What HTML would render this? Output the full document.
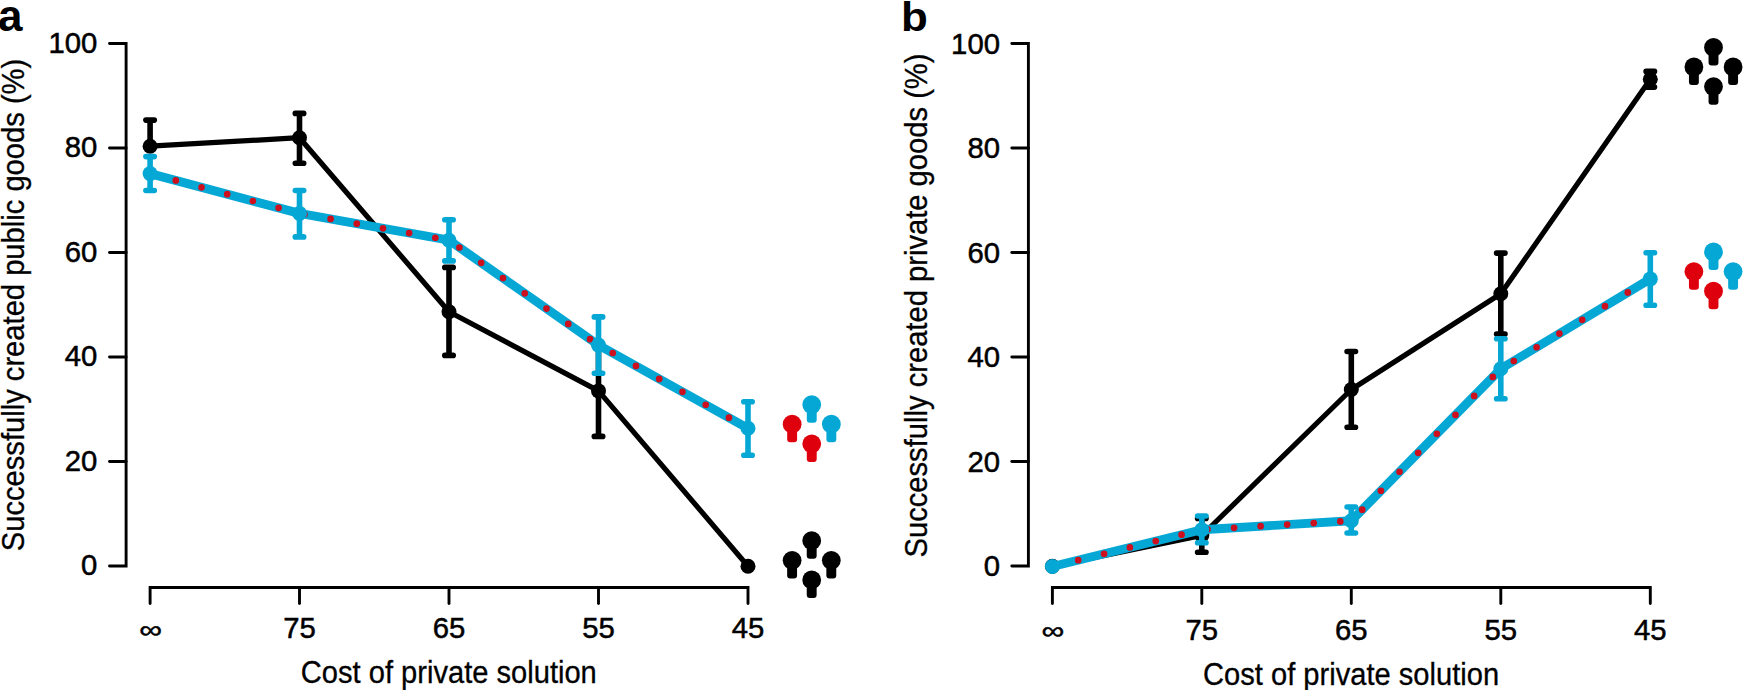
<!DOCTYPE html>
<html><head><meta charset="utf-8"><title>Figure</title>
<style>
html,body{margin:0;padding:0;background:#fff;}
body{width:1743px;height:690px;overflow:hidden;}
svg{display:block;font-family:"Liberation Sans",Arial,Helvetica,sans-serif;}
</style></head><body>
<svg width="1743" height="690" viewBox="0 0 1743 690">
<rect width="1743" height="690" fill="#fff"/>

<!-- panel a -->
<g stroke="#000" stroke-width="2.9" fill="none" stroke-linecap="round" stroke-linejoin="miter"><path d="M109.5,43.55H126.1V566.0H109.5"/><path d="M109.5,461.51H126.1"/><path d="M109.5,357.02H126.1"/><path d="M109.5,252.53H126.1"/><path d="M109.5,148.04H126.1"/><path d="M150.1,603.5V587.5H748.0V603.5"/><path d="M299.5,587.5V603.5"/><path d="M449.0,587.5V603.5"/><path d="M598.5,587.5V603.5"/></g><g font-size="29.3" fill="#000" stroke="#000" stroke-width="0.5"><text x="97.4" y="575.2" text-anchor="end">0</text><text x="97.4" y="470.7" text-anchor="end">20</text><text x="97.4" y="366.2" text-anchor="end">40</text><text x="97.4" y="261.7" text-anchor="end">60</text><text x="97.4" y="157.2" text-anchor="end">80</text><text x="97.4" y="52.7" text-anchor="end">100</text><text x="299.5" y="638.1" text-anchor="middle">75</text><text x="449.0" y="638.1" text-anchor="middle">65</text><text x="598.5" y="638.1" text-anchor="middle">55</text><text x="748.0" y="638.1" text-anchor="middle">45</text><text transform="translate(150.6,637.9) scale(1.09,0.84)" text-anchor="middle">∞</text></g><text x="448.8" y="683.4" font-size="31" stroke="#000" stroke-width="0.3" text-anchor="middle" textLength="296" lengthAdjust="spacingAndGlyphs">Cost of private solution</text>
<text x="-2.1" y="31.3" font-size="44" font-weight="bold">a</text>
<text transform="translate(24.3,305) rotate(-90)" font-size="31" stroke="#000" stroke-width="0.3" text-anchor="middle" textLength="492.5" lengthAdjust="spacingAndGlyphs">Successfully created public goods (%)</text>
<polyline points="150.1,146.2 299.5,137.7 449.0,311.7 598.5,390.9 748.0,566.2" fill="none" stroke="#000" stroke-width="5.2" stroke-linejoin="round" stroke-linecap="round"/><path d="M150.1,120.1V146.4M145.9,120.1h8.4M145.9,146.4h8.4" stroke="#000" stroke-width="5.6" stroke-linecap="round" fill="none"/><circle cx="150.1" cy="146.2" r="7.5" fill="#000"/><path d="M299.5,113.4V163.2M295.3,113.4h8.4M295.3,163.2h8.4" stroke="#000" stroke-width="5.6" stroke-linecap="round" fill="none"/><circle cx="299.5" cy="137.7" r="7.5" fill="#000"/><path d="M449.0,267.4V355.4M444.8,267.4h8.4M444.8,355.4h8.4" stroke="#000" stroke-width="5.6" stroke-linecap="round" fill="none"/><circle cx="449.0" cy="311.7" r="7.5" fill="#000"/><path d="M598.5,345V436.4M594.3,345h8.4M594.3,436.4h8.4" stroke="#000" stroke-width="5.6" stroke-linecap="round" fill="none"/><circle cx="598.5" cy="390.9" r="7.5" fill="#000"/><circle cx="748.0" cy="566.2" r="7.5" fill="#000"/>
<polyline points="150.1,173.6 299.5,213.4 449.0,240.2 598.5,345.1 748.0,428.3" fill="none" stroke="#05A7D5" stroke-width="8.9" stroke-linejoin="round" stroke-linecap="round"/><polyline points="150.1,173.6 299.5,213.4 449.0,240.2 598.5,345.1 748.0,428.3" fill="none" stroke="#CD0F1E" stroke-width="6.7" stroke-linecap="round" stroke-dasharray="0 26.6"/><path d="M150.1,156.6V190.5M145.9,156.6h8.4M145.9,190.5h8.4" stroke="#05A7D5" stroke-width="5.6" stroke-linecap="round" fill="none"/><circle cx="150.1" cy="173.6" r="7.5" fill="#05A7D5"/><path d="M299.5,190.5V236.9M295.3,190.5h8.4M295.3,236.9h8.4" stroke="#05A7D5" stroke-width="5.6" stroke-linecap="round" fill="none"/><circle cx="299.5" cy="213.4" r="7.5" fill="#05A7D5"/><path d="M449.0,219.8V260.9M444.8,219.8h8.4M444.8,260.9h8.4" stroke="#05A7D5" stroke-width="5.6" stroke-linecap="round" fill="none"/><circle cx="449.0" cy="240.2" r="7.5" fill="#05A7D5"/><path d="M598.5,316.9V373.3M594.3,316.9h8.4M594.3,373.3h8.4" stroke="#05A7D5" stroke-width="5.6" stroke-linecap="round" fill="none"/><circle cx="598.5" cy="345.1" r="7.5" fill="#05A7D5"/><path d="M748.0,401.8V455.3M743.8,401.8h8.4M743.8,455.3h8.4" stroke="#05A7D5" stroke-width="5.6" stroke-linecap="round" fill="none"/><circle cx="748.0" cy="428.3" r="7.5" fill="#05A7D5"/>
<circle cx="811.75" cy="404.59999999999997" r="9.4" fill="#05A7D5"/><rect x="806.8" y="404.59999999999997" width="9.9" height="18.1" rx="3" ry="3" fill="#05A7D5"/><circle cx="792.15" cy="424.2" r="9.4" fill="#DF000D"/><rect x="787.1999999999999" y="424.2" width="9.9" height="18.1" rx="3" ry="3" fill="#DF000D"/><circle cx="831.35" cy="424.2" r="9.4" fill="#05A7D5"/><rect x="826.4" y="424.2" width="9.9" height="18.1" rx="3" ry="3" fill="#05A7D5"/><circle cx="811.75" cy="443.8" r="9.4" fill="#DF000D"/><rect x="806.8" y="443.8" width="9.9" height="18.1" rx="3" ry="3" fill="#DF000D"/>
<circle cx="811.7" cy="540.6999999999999" r="9.4" fill="#000"/><rect x="806.75" y="540.6999999999999" width="9.9" height="18.1" rx="3" ry="3" fill="#000"/><circle cx="792.1" cy="560.3" r="9.4" fill="#000"/><rect x="787.15" y="560.3" width="9.9" height="18.1" rx="3" ry="3" fill="#000"/><circle cx="831.3000000000001" cy="560.3" r="9.4" fill="#000"/><rect x="826.35" y="560.3" width="9.9" height="18.1" rx="3" ry="3" fill="#000"/><circle cx="811.7" cy="579.9" r="9.4" fill="#000"/><rect x="806.75" y="579.9" width="9.9" height="18.1" rx="3" ry="3" fill="#000"/>
<!-- panel b -->
<g stroke="#000" stroke-width="2.9" fill="none" stroke-linecap="round" stroke-linejoin="miter"><path d="M1011.8,43.55H1028.3999999999999V566.0H1011.8"/><path d="M1011.8,461.51H1028.3999999999999"/><path d="M1011.8,357.02H1028.3999999999999"/><path d="M1011.8,252.53H1028.3999999999999"/><path d="M1011.8,148.04H1028.3999999999999"/><path d="M1052.3999999999999,603.5V587.5H1650.3V603.5"/><path d="M1201.8,587.5V603.5"/><path d="M1351.3,587.5V603.5"/><path d="M1500.8,587.5V603.5"/></g><g font-size="29.3" fill="#000" stroke="#000" stroke-width="0.5"><text x="999.9999999999999" y="576.2" text-anchor="end">0</text><text x="999.9999999999999" y="471.7" text-anchor="end">20</text><text x="999.9999999999999" y="367.2" text-anchor="end">40</text><text x="999.9999999999999" y="262.7" text-anchor="end">60</text><text x="999.9999999999999" y="158.2" text-anchor="end">80</text><text x="999.9999999999999" y="53.7" text-anchor="end">100</text><text x="1201.8" y="639.5" text-anchor="middle">75</text><text x="1351.3" y="639.5" text-anchor="middle">65</text><text x="1500.8" y="639.5" text-anchor="middle">55</text><text x="1650.3" y="639.5" text-anchor="middle">45</text><text transform="translate(1052.8999999999999,639.3) scale(1.09,0.84)" text-anchor="middle">∞</text></g><text x="1351.1" y="684.5" font-size="31" stroke="#000" stroke-width="0.3" text-anchor="middle" textLength="296" lengthAdjust="spacingAndGlyphs">Cost of private solution</text>
<text transform="translate(900.9,30.8) scale(1.045,0.985)" font-size="42" font-weight="bold">b</text>
<text transform="translate(926.7,305.5) rotate(-90)" font-size="31" stroke="#000" stroke-width="0.3" text-anchor="middle" textLength="504" lengthAdjust="spacingAndGlyphs">Successfully created private goods (%)</text>
<polyline points="1052.3999999999999,566.2 1201.8,535.5 1351.3,389.5 1500.8,293.8 1650.3,79.3" fill="none" stroke="#000" stroke-width="5.2" stroke-linejoin="round" stroke-linecap="round"/><circle cx="1052.3999999999999" cy="566.2" r="7.5" fill="#000"/><path d="M1201.8,518.4V552.2M1197.6,518.4h8.4M1197.6,552.2h8.4" stroke="#000" stroke-width="5.6" stroke-linecap="round" fill="none"/><circle cx="1201.8" cy="535.5" r="7.5" fill="#000"/><path d="M1351.3,351.5V427.3M1347.1,351.5h8.4M1347.1,427.3h8.4" stroke="#000" stroke-width="5.6" stroke-linecap="round" fill="none"/><circle cx="1351.3" cy="389.5" r="7.5" fill="#000"/><path d="M1500.8,253.1V334.1M1496.6,253.1h8.4M1496.6,334.1h8.4" stroke="#000" stroke-width="5.6" stroke-linecap="round" fill="none"/><circle cx="1500.8" cy="293.8" r="7.5" fill="#000"/><path d="M1650.3,71.4V87.1M1646.1,71.4h8.4M1646.1,87.1h8.4" stroke="#000" stroke-width="5.6" stroke-linecap="round" fill="none"/><circle cx="1650.3" cy="79.3" r="7.5" fill="#000"/>
<polyline points="1052.3999999999999,566.5 1201.8,529.7 1351.3,520.8 1500.8,368.8 1650.3,278.9" fill="none" stroke="#05A7D5" stroke-width="8.9" stroke-linejoin="round" stroke-linecap="round"/><polyline points="1052.3999999999999,566.5 1201.8,529.7 1351.3,520.8 1500.8,368.8 1650.3,278.9" fill="none" stroke="#CD0F1E" stroke-width="6.7" stroke-linecap="round" stroke-dasharray="0 26.6"/><circle cx="1052.3999999999999" cy="566.5" r="7.5" fill="#05A7D5"/><path d="M1201.8,516.0V542.8M1197.6,516.0h8.4M1197.6,542.8h8.4" stroke="#05A7D5" stroke-width="5.6" stroke-linecap="round" fill="none"/><circle cx="1201.8" cy="529.7" r="7.5" fill="#05A7D5"/><path d="M1351.3,507.0V533.0M1347.1,507.0h8.4M1347.1,533.0h8.4" stroke="#05A7D5" stroke-width="5.6" stroke-linecap="round" fill="none"/><circle cx="1351.3" cy="520.8" r="7.5" fill="#05A7D5"/><path d="M1500.8,338.8V398.7M1496.6,338.8h8.4M1496.6,398.7h8.4" stroke="#05A7D5" stroke-width="5.6" stroke-linecap="round" fill="none"/><circle cx="1500.8" cy="368.8" r="7.5" fill="#05A7D5"/><path d="M1650.3,252.8V305.2M1646.1,252.8h8.4M1646.1,305.2h8.4" stroke="#05A7D5" stroke-width="5.6" stroke-linecap="round" fill="none"/><circle cx="1650.3" cy="278.9" r="7.5" fill="#05A7D5"/>
<circle cx="1713.5" cy="47.4" r="9.4" fill="#000"/><rect x="1708.55" y="47.4" width="9.9" height="18.1" rx="3" ry="3" fill="#000"/><circle cx="1693.9" cy="67" r="9.4" fill="#000"/><rect x="1688.95" y="67" width="9.9" height="18.1" rx="3" ry="3" fill="#000"/><circle cx="1733.1" cy="67" r="9.4" fill="#000"/><rect x="1728.1499999999999" y="67" width="9.9" height="18.1" rx="3" ry="3" fill="#000"/><circle cx="1713.5" cy="86.6" r="9.4" fill="#000"/><rect x="1708.55" y="86.6" width="9.9" height="18.1" rx="3" ry="3" fill="#000"/>
<circle cx="1713.5" cy="252.00000000000003" r="9.4" fill="#05A7D5"/><rect x="1708.55" y="252.00000000000003" width="9.9" height="18.1" rx="3" ry="3" fill="#05A7D5"/><circle cx="1693.9" cy="271.6" r="9.4" fill="#DF000D"/><rect x="1688.95" y="271.6" width="9.9" height="18.1" rx="3" ry="3" fill="#DF000D"/><circle cx="1733.1" cy="271.6" r="9.4" fill="#05A7D5"/><rect x="1728.1499999999999" y="271.6" width="9.9" height="18.1" rx="3" ry="3" fill="#05A7D5"/><circle cx="1713.5" cy="291.20000000000005" r="9.4" fill="#DF000D"/><rect x="1708.55" y="291.20000000000005" width="9.9" height="18.1" rx="3" ry="3" fill="#DF000D"/>
</svg></body></html>
